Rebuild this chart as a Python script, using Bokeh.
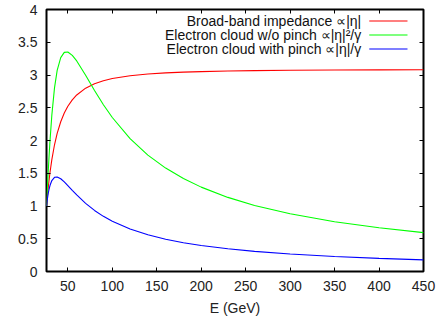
from bokeh.plotting import figure
from bokeh.models import Range1d, LinearAxis, FixedTicker, CustomJSTickFormatter, Label
from bokeh.embed import file_html
from bokeh.resources import INLINE

# Beam energy (GeV)
energy = [26, 27, 28, 29, 30, 32, 35, 38, 42, 46, 50, 55, 60, 70, 80, 90, 100,
          120, 140, 160, 180, 200, 230, 260, 300, 350, 400, 450]

# Broad-band impedance  ~ |eta|
broadband = [1.0, 1.1515, 1.2873, 1.4091, 1.5190, 1.7087, 1.9348, 2.1095, 2.2868,
             2.4198, 2.5224, 2.6204, 2.6949, 2.7991, 2.8666, 2.9129, 2.9461,
             2.9892, 3.0152, 3.0321, 3.0437, 3.0520, 3.0607, 3.0664, 3.0716,
             3.0758, 3.0785, 3.0804]

# Electron cloud without pinch ~ |eta|^2/gamma
ecloud_nopinch = [1.0, 1.2783, 1.5423, 1.7862, 2.0087, 2.3876, 2.8030, 3.0700,
                  3.2650, 3.3450, 3.3520, 3.3000, 3.2150, 2.9950, 2.7639, 2.5458,
                  2.3513, 2.0282, 1.7770, 1.5787, 1.4190, 1.2881, 1.1313, 1.0082,
                  0.8805, 0.7603, 0.6691, 0.5930]

# Electron cloud with pinch ~ |eta|/gamma
ecloud_pinch = [1.0, 1.1089, 1.1955, 1.2635, 1.3167, 1.3886, 1.4377, 1.4439,
                1.4162, 1.3683, 1.3123, 1.2394, 1.1684, 1.0403, 0.93222, 0.84203,
                0.76649, 0.64806, 0.56035, 0.49305, 0.43994, 0.39703, 0.34623,
                0.30685, 0.26638, 0.22864, 0.20023, 0.17810]

x_ticks = [50, 100, 150, 200, 250, 300, 350, 400, 450]
y_ticks = [0, 0.5, 1, 1.5, 2, 2.5, 3, 3.5, 4]

series_labels = ["Broad-band impedance \u221d|\u03b7|",
                 "Electron cloud w/o pinch \u221d|\u03b7|\u00b2/\u03b3",
                 "Electron cloud with pinch \u221d|\u03b7|/\u03b3"]
series_colors = ["#ff0000", "#00ff00", "#0000ff"]

FONT = "Liberation Sans"
FS = "14px"

p = figure(width=440, height=321, output_backend="svg", toolbar_location=None,
           x_range=Range1d(26, 450), y_range=Range1d(0, 4),
           min_border_left=46, min_border_right=17, min_border_top=9,
           min_border_bottom=50)
p.background_fill_color = "white"
p.border_fill_color = "white"
p.outline_line_color = "black"
p.outline_line_width = 2
p.xgrid.visible = False
p.ygrid.visible = False

p.xaxis.ticker = FixedTicker(ticks=x_ticks)
p.yaxis.ticker = FixedTicker(ticks=y_ticks)
p.yaxis.formatter = CustomJSTickFormatter(code="return tick.toString();")
p.xaxis.axis_label = "E (GeV)"

for ax in (p.xaxis[0], p.yaxis[0]):
    ax.axis_line_color = None
    ax.major_tick_in = 4
    ax.major_tick_out = 0
    ax.major_tick_line_color = "black"
    ax.major_tick_line_width = 1
    ax.minor_tick_line_color = None
    ax.major_label_text_font = FONT
    ax.major_label_text_font_size = "14px"
    ax.major_label_text_color = "#222222"
    ax.axis_label_text_font = FONT
    ax.axis_label_text_font_size = "14px"
    ax.axis_label_text_font_style = "normal"
    ax.axis_label_text_color = "#222222"
p.xaxis.major_label_standoff = 9
p.xaxis.axis_label_standoff = 6
p.yaxis.major_label_standoff = 9

for loc, tk in (("above", x_ticks), ("right", y_ticks)):
    ax = LinearAxis(ticker=FixedTicker(ticks=tk),
                    formatter=CustomJSTickFormatter(code="return '';"))
    ax.axis_line_color = None
    ax.major_tick_in = 4
    ax.major_tick_out = 0
    ax.major_tick_line_color = "black"
    ax.minor_tick_line_color = None
    ax.major_label_standoff = 0
    p.add_layout(ax, loc)

for ys, col in zip((broadband, ecloud_nopinch, ecloud_pinch), series_colors):
    p.line(energy, ys, line_color=col, line_width=1.1)

# key (label to the left of the line sample, as in gnuplot)
key_text_x = 380
key_line_x0, key_line_x1 = 389, 432
key_rows = [3.825, 3.611, 3.398]
for lab, col, yk in zip(series_labels, series_colors, key_rows):
    p.add_layout(Label(x=key_text_x, y=yk, text=lab, text_align="right",
                       text_baseline="middle", text_font=FONT,
                       text_font_size=FS, text_color="#111111"))
    p.line([key_line_x0, key_line_x1], [yk, yk], line_color=col, line_width=1.1)

open("out.html", "w").write(file_html(p, INLINE))
